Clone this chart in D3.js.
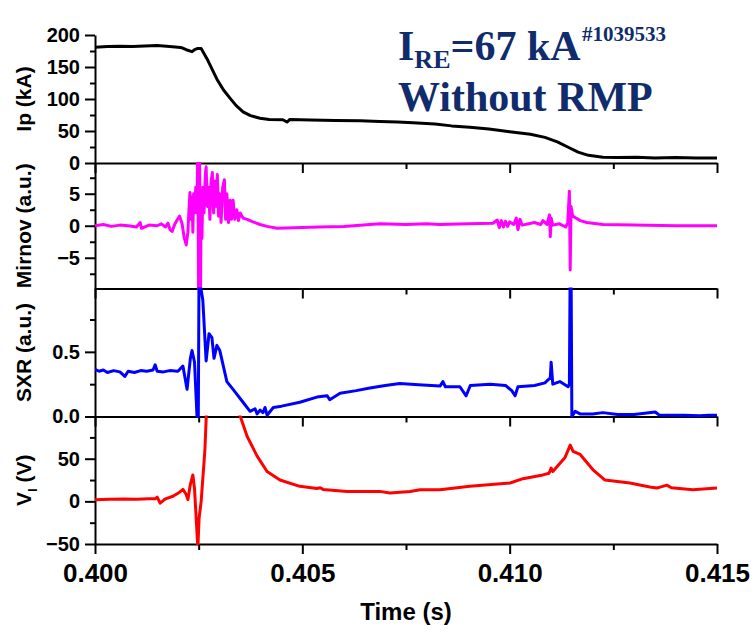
<!DOCTYPE html>
<html>
<head>
<meta charset="utf-8">
<script src="https://cdn.jsdelivr.net/npm/d3@7"></script>
<style>
  body { margin: 0; background: #fff; }
  svg text { font-family: "Liberation Sans", Arial, sans-serif; font-weight: bold; }
  .axis path, .axis line { stroke: #000; stroke-width: 2px; }
</style>
</head>
<body>
<div id="chart"></div>
<script>
// ---- data (time in s) ----
const xTicks = [0.400, 0.405, 0.410, 0.415];
const xMinor = [0.4025, 0.4075, 0.4125];

const ipData = [[0.40000,181],[0.40030,182],[0.40060,182.5],[0.40090,182],[0.40120,183],[0.40150,183.5],[0.40180,182],
  [0.40200,181],[0.40210,180],[0.40220,177],[0.40234,174],[0.40240,177],[0.40248,179],[0.40256,179],[0.40270,163],
  [0.40294,131],[0.40310,114],[0.40326,101],[0.40340,90],[0.40357,80],[0.40375,74],[0.40398,70],[0.40420,68],
  [0.40453,67.5],[0.40463,64],[0.40470,68],[0.40520,67],[0.40580,66.5],[0.40640,66],[0.40687,65],[0.40730,64],
  [0.40767,63],[0.40820,61],[0.40860,58],[0.40904,56],[0.40950,53],[0.41000,49],[0.41050,45],[0.41085,40],
  [0.41115,33],[0.41140,25],[0.41165,17],[0.41190,12],[0.41225,9],[0.41260,8.5],[0.41307,9],[0.41350,8],
  [0.41400,8.5],[0.41450,8],[0.41500,8]];

const mirnovData = [[0.40000,0],[0.40020,0.2],[0.40040,-0.1],[0.40060,0.1],[0.40080,0],[0.40100,-0.2],[0.40109,0.5],
  [0.40112,-0.4],[0.40130,0.1],[0.40150,0],[0.40160,0.3],[0.40170,-0.2],[0.40176,0.4],[0.40181,-0.6],[0.40186,-0.9],
  [0.40192,0.2],[0.40198,0.9],[0.40204,1.5],[0.40210,0.3],[0.40215,-1.8],[0.40220,-3],[0.40224,-1],[0.40227,3],
  [0.40229,5.2],[0.40231,1],[0.40234,4.5],[0.40236,-1],[0.40238,5],[0.40240,2],[0.40243,6],[0.40246,2],[0.40248,15],
  [0.40250,-15],[0.40252,15],[0.40254,-15],[0.40256,4],[0.40258,-2],[0.40260,6],[0.40263,2],[0.40266,8],[0.40268,9.2],
  [0.40271,3],[0.40274,6],[0.40277,1],[0.40280,7],[0.40283,8.3],[0.40286,2],[0.40289,7],[0.40292,3],[0.40295,8],
  [0.40298,1.5],[0.40301,5],[0.40304,0.5],[0.40308,6],[0.40312,7.2],[0.40315,1],[0.40318,5],[0.40322,0.5],[0.40326,4],
  [0.40329,1],[0.40333,4],[0.40337,1],[0.40342,2.5],[0.40346,0.8],[0.40350,2],[0.40357,1.2],[0.40367,1],[0.40381,0.6],
  [0.40398,0.2],[0.40415,-0.1],[0.40439,-0.4],[0.40480,-0.3],[0.40540,-0.2],[0.40600,-0.1],[0.40687,0.3],[0.40750,0.2],
  [0.40800,0.3],[0.40830,0.2],[0.40900,0.3],[0.40960,0.4],[0.40970,0.9],[0.40975,-0.3],[0.40980,0.8],[0.40985,-0.2],
  [0.40990,0.7],[0.40995,-0.1],[0.41000,0.6],[0.41010,0.2],[0.41016,1.2],[0.41020,-0.6],[0.41025,1],[0.41030,0.1],
  [0.41060,0.5],[0.41075,0.2],[0.41080,0.8],[0.41090,0.2],[0.41096,1.7],[0.41098,-1.7],[0.41100,1.2],[0.41104,0.1],
  [0.41120,0.3],[0.41135,-0.2],[0.41140,0.4],[0.41144,5.4],[0.41146,-6.9],[0.41148,3],[0.41152,1.5],[0.41160,1.2],
  [0.41170,0.8],[0.41186,0.5],[0.41225,0.2],[0.41300,0.1],[0.41400,0],[0.41500,0]];

const sxrData = [[0.40000,0.365],[0.40010,0.35],[0.40020,0.36],[0.40030,0.34],[0.40045,0.355],[0.40060,0.345],
  [0.40072,0.31],[0.40080,0.35],[0.40095,0.34],[0.40110,0.355],[0.40125,0.35],[0.40140,0.36],[0.40145,0.40],
  [0.40150,0.35],[0.40165,0.345],[0.40180,0.355],[0.40200,0.35],[0.40212,0.39],[0.40222,0.21],[0.40230,0.45],
  [0.40234,0.51],[0.40240,0.42],[0.40246,0.0],[0.40249,-0.1],[0.40251,1.2],[0.40255,1.0],[0.40260,0.9],[0.40268,0.43],
  [0.40275,0.64],[0.40282,0.61],[0.40287,0.45],[0.40294,0.55],[0.40301,0.51],[0.40318,0.27],[0.40333,0.21],
  [0.40357,0.11],[0.40374,0.04],[0.40386,0.06],[0.40391,0.02],[0.40398,0.05],[0.40405,0.03],[0.40410,0.07],
  [0.40415,0.01],[0.40430,0.07],[0.40450,0.08],[0.40494,0.11],[0.40535,0.15],[0.40560,0.16],[0.40566,0.13],
  [0.40591,0.18],[0.40630,0.2],[0.40663,0.22],[0.40700,0.24],[0.40735,0.255],[0.40780,0.245],[0.40832,0.235],
  [0.40839,0.27],[0.40845,0.23],[0.40880,0.23],[0.40895,0.16],[0.40905,0.24],[0.40953,0.25],[0.40990,0.24],
  [0.41005,0.2],[0.41013,0.16],[0.41020,0.23],[0.41060,0.24],[0.41085,0.26],[0.41098,0.3],[0.41100,0.42],
  [0.41104,0.25],[0.41121,0.27],[0.41141,0.23],[0.41144,0.25],[0.41146,1.2],[0.41148,1.2],[0.41150,0.0],
  [0.41158,0.04],[0.41170,0.02],[0.41200,0.02],[0.41225,0.03],[0.41260,0.015],[0.41300,0.015],[0.41351,0.035],
  [0.41360,0.012],[0.41420,0.01],[0.41459,0.005],[0.41480,0.01],[0.41500,0.01]];

const vlData = [[0.40000,2],[0.40036,2.5],[0.40072,2.8],[0.40100,2.5],[0.40130,3],[0.40145,3],[0.40150,5],[0.40157,-2],
  [0.40170,3],[0.40188,6],[0.40205,11],[0.40212,14],[0.40220,8],[0.40224,2],[0.40230,20],[0.40236,31],[0.40240,15],
  [0.40244,-20],[0.40248,-55],[0.40251,-20],[0.40256,0],[0.40265,60],[0.40270,120],[0.40300,140],[0.40330,120],
  [0.40350,100],[0.40367,76],[0.40391,53],[0.40415,35],[0.40446,25],[0.40494,17.6],[0.40535,15],[0.40543,16],
  [0.40550,14],[0.40608,11.7],[0.40687,11.7],[0.40711,9.8],[0.40760,11.5],[0.40784,13.7],[0.40832,13.5],
  [0.40904,17.6],[0.41001,21.5],[0.41032,26.6],[0.41080,31],[0.41095,33],[0.41100,39],[0.41104,35],[0.41133,51],
  [0.41146,66],[0.41153,58.6],[0.41170,55],[0.41201,37],[0.41230,25],[0.41290,21.5],[0.41338,16.8],[0.41355,15.6],
  [0.41365,17],[0.41379,19],[0.41390,16],[0.41442,13.7],[0.41500,15.6]];

// panel settings
const panels = [
  { name: 'ip', top: 35, bottom: 163, domain: [0, 200], ticks: [0, 50, 100, 150, 200], minor: [25, 75, 125, 175],
    fmt: d3.format('d'), label: 'Ip (kA)', data: ipData, color: '#000000' },
  { name: 'mirnov', top: 163, bottom: 288.5, domain: [-9.8, 9.8], ticks: [-5, 0, 5], minor: [-7.5, -2.5, 2.5, 7.5],
    fmt: d3.format('d'), label: 'Mirnov (a.u.)', data: mirnovData, color: '#ff00ff' },
  { name: 'sxr', top: 288.5, bottom: 416.5, domain: [0, 0.99], ticks: [0, 0.5], minor: [0.25, 0.75],
    fmt: d3.format('.1f'), label: 'SXR (a.u.)', data: sxrData, color: '#0000ff' },
  { name: 'vl', top: 416.5, bottom: 544, domain: [-50, 99.5], ticks: [-50, 0, 50], minor: [-25, 25, 75],
    fmt: d3.format('d'), label: 'V', sub: 'l', unit: ' (V)', data: vlData, color: '#ff0000' }
];

const W = 756, H = 635;
const left = 95, right = 717;

const svg = d3.select('#chart').append('svg')
  .attr('width', W)
  .attr('height', H);

const x = d3.scaleLinear().domain([0.400, 0.415]).range([left, right]);

const defs = svg.append('defs');

panels.forEach((p, i) => {
  const y = d3.scaleLinear().domain(p.domain).range([p.bottom, p.top]);
  const isLast = i === panels.length - 1;

  // left axis, major + minor
  svg.append('g')
    .attr('class', 'axis')
    .attr('transform', `translate(${left},0)`)
    .call(d3.axisLeft(y).tickValues(p.ticks).tickFormat(p.fmt).tickSize(10).tickPadding(5).tickSizeOuter(0))
    .call(g => g.selectAll('text').style('font-size', '20px').attr('fill', '#000'));

  svg.append('g')
    .attr('class', 'axis')
    .attr('transform', `translate(${left},0)`)
    .call(d3.axisLeft(y).tickValues(p.minor).tickFormat('').tickSize(5).tickSizeOuter(0))
    .call(g => g.select('.domain').remove());

  // bottom axis of each panel
  const xAxisG = svg.append('g')
    .attr('class', 'axis')
    .attr('transform', `translate(0,${p.bottom})`)
    .call(d3.axisBottom(x).tickValues(xTicks).tickSize(10).tickSizeOuter(0)
      .tickFormat(isLast ? d3.format('.3f') : ''));

  if (isLast) {
    xAxisG.selectAll('text')
      .attr('y', 38)
      .attr('dy', null)
      .style('font-size', '26px')
      .attr('fill', '#000');
  }

  svg.append('g')
    .attr('class', 'axis')
    .attr('transform', `translate(0,${p.bottom})`)
    .call(d3.axisBottom(x).tickValues(xMinor).tickFormat('').tickSize(6).tickSizeOuter(0))
    .call(g => g.select('.domain').remove());

  // y axis title
  const cy = (p.top + p.bottom) / 2;
  const title = svg.append('text')
    .attr('transform', `translate(31,${cy}) rotate(-90)`)
    .attr('text-anchor', 'middle')
    .style('font-size', '21px')
    .attr('fill', '#000');
  title.append('tspan').text(p.label);
  if (p.sub) {
    title.append('tspan').attr('dy', 6).style('font-size', '13px').text(p.sub);
    title.append('tspan').attr('dy', -6).text(p.unit);
  }

  // clip region per panel
  defs.append('clipPath')
    .attr('id', `clip-${p.name}`)
    .append('rect')
    .attr('x', left)
    .attr('y', p.top - 1)
    .attr('width', right - left)
    .attr('height', p.bottom - p.top + 2);

  const line = d3.line()
    .x(d => x(d[0]))
    .y(d => y(d[1]));

  svg.append('path')
    .datum(p.data)
    .attr('clip-path', `url(#clip-${p.name})`)
    .attr('d', line)
    .attr('fill', 'none')
    .attr('stroke', p.color)
    .attr('stroke-width', 3)
    .attr('stroke-linejoin', 'round');
});

// x axis title
svg.append('text')
  .attr('x', (left + right) / 2)
  .attr('y', 620)
  .attr('text-anchor', 'middle')
  .style('font-size', '24px')
  .attr('fill', '#000')
  .text('Time (s)');

// annotation
const navy = '#102c6c';
const note = svg.append('text')
  .attr('x', 398)
  .attr('y', 60)
  .attr('fill', navy)
  .style('font-family', '"Liberation Serif", "Times New Roman", serif')
  .style('font-size', '42px');
note.append('tspan').text('I');
note.append('tspan').attr('dy', 8).style('font-size', '26px').text('RE');
note.append('tspan').attr('dy', -8).text('=67 kA');

svg.append('text')
  .attr('x', 582)
  .attr('y', 41)
  .attr('fill', navy)
  .style('font-family', '"Liberation Serif", "Times New Roman", serif')
  .style('font-size', '21px')
  .text('#1039533');

svg.append('text')
  .attr('x', 398)
  .attr('y', 111)
  .attr('fill', navy)
  .style('font-family', '"Liberation Serif", "Times New Roman", serif')
  .style('font-size', '42px')
  .text('Without RMP');
</script>
</body>
</html>
